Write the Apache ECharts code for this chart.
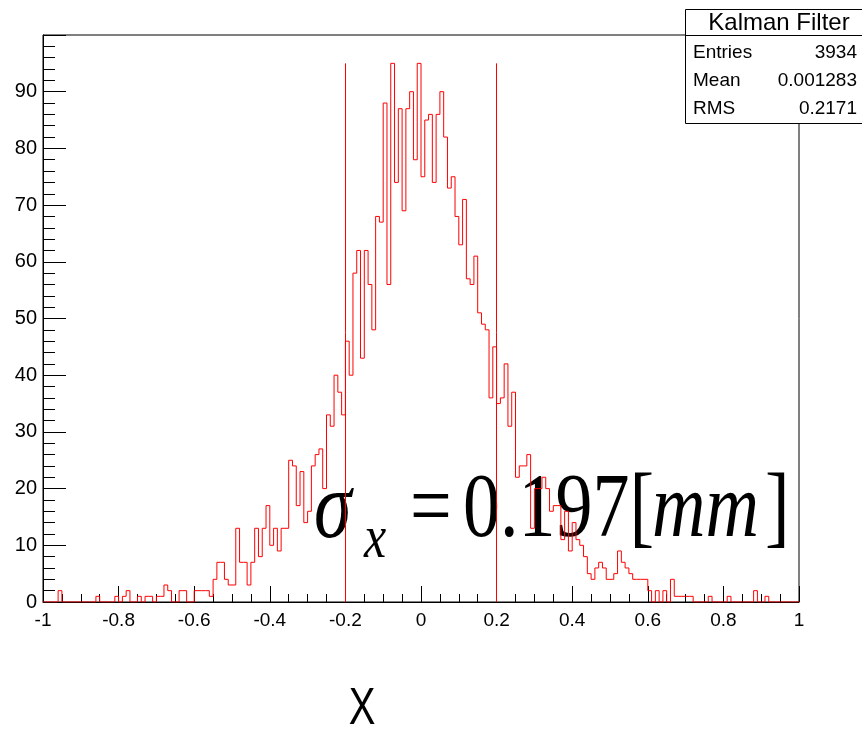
<!DOCTYPE html>
<html>
<head>
<meta charset="utf-8">
<script src="https://cdn.jsdelivr.net/npm/echarts@6/dist/echarts.min.js"></script>
<style>html,body{margin:0;padding:0;background:#fff;}#c{width:862px;height:730px;}</style>
</head>
<body>
<div id="c"></div>
<script>
// ---- data ----
const xMin = -1, xMax = 1, binWidth = 0.01;
const counts = [
  0,0,0,0,2,0,0,0,0,0,
  0,0,0,0,1,0,0,0,0,1,
  0,1,2,0,0,1,0,1,1,0,
  1,1,3,2,0,0,2,2,0,0,
  2,2,2,2,1,4,7,7,4,3,
  3,13,7,7,3,7,13,8,13,17,
  10,13,9,13,13,25,24,17,23,14,
  16,24,26,27,20,33,31,40,37,33,
  46,40,58,62,43,62,56,48,68,67,
  88,56,95,74,87,69,87,90,78,95,
  75,85,86,74,86,90,82,73,75,68,
  63,71,57,56,61,51,49,48,36,45,
  35,36,42,31,37,22,24,24,26,13,
  20,20,22,20,16,17,17,11,16,9,
  14,11,10,8,5,4,6,7,6,4,
  4,5,9,7,6,5,4,4,4,4,
  2,0,2,0,2,0,4,1,1,1,
  1,1,0,0,0,0,1,0,0,0,
  0,1,0,0,0,0,0,0,2,0,
  0,1,0,0,0,0,0,0,0,0
];
const sigmaLines = [-0.2, 0.2];
const sigmaLineTop = 95;
const yMax = 100, yInterval = 10, xInterval = 0.2;
const statTitle = 'Kalman Filter';
const statLabels = ['Entries', 'Mean', 'RMS'];
const statValues = ['3934', '0.001283', '0.2171'];
const axisTitleX = 'X';

// ---- build ----
const histData = counts.map((v, i) => [+(xMin + i * binWidth).toFixed(4), v]);
histData.push([xMax, counts[counts.length - 1]]);

const chart = echarts.init(document.getElementById('c'), null, {renderer: 'canvas'});
const sans = '"Liberation Sans", Arial, sans-serif';
const serif = '"Liberation Serif", "Times New Roman", serif';

const statRows = statLabels.map((lab, i) => ([
  {type: 'text', x: 693, y: 53 + i * 28, style: {text: lab, font: '19px ' + sans, fill: '#000', verticalAlign: 'middle', align: 'left'}},
  {type: 'text', x: 857, y: 53 + i * 28, style: {text: statValues[i], font: '19px ' + sans, fill: '#000', verticalAlign: 'middle', align: 'right'}}
])).flat();

chart.setOption({
  animation: false,
  backgroundColor: '#fff',
  grid: {left: 43, right: 63, top: 35, bottom: 128, show: true, borderColor: '#000', borderWidth: 1, backgroundColor: 'transparent'},
  xAxis: {
    type: 'value', min: xMin, max: xMax, interval: xInterval,
    axisLine: {show: true, onZero: false, lineStyle: {color: '#000', width: 1}},
    axisTick: {show: true, inside: true, length: 16, lineStyle: {color: '#000'}},
    minorTick: {show: true, splitNumber: 4, length: 8, lineStyle: {color: '#000'}},
    splitLine: {show: false},
    axisLabel: {color: '#000', fontSize: 19, fontFamily: sans, margin: 9}
  },
  yAxis: {
    type: 'value', min: 0, max: yMax, interval: yInterval,
    axisLine: {show: true, onZero: false, lineStyle: {color: '#000', width: 1}},
    axisTick: {show: true, inside: true, length: 23, lineStyle: {color: '#000'}},
    minorTick: {show: true, splitNumber: 5, length: 12, lineStyle: {color: '#000'}},
    splitLine: {show: false},
    axisLabel: {color: '#000', fontSize: 20, fontFamily: sans, margin: 6,
      formatter: v => (v >= yMax ? '' : String(v))}
  },
  series: [{
    type: 'line', step: 'end', data: histData, showSymbol: false, symbol: 'none',
    lineStyle: {color: '#ff0000', width: 1}, itemStyle: {color: '#ff0000'},
    silent: true,
    markLine: {
      silent: true, symbol: ['none', 'none'], animation: false,
      label: {show: false},
      lineStyle: {color: '#ff0000', width: 1, type: 'solid'},
      data: sigmaLines.map(x => [{coord: [x, 0]}, {coord: [x, sigmaLineTop]}])
    }
  }],
  graphic: [
    {type: 'rect', shape: {x: 685.5, y: 9.5, width: 180, height: 114}, style: {fill: '#fff', stroke: '#000', lineWidth: 1}, z: 10},
    {type: 'line', shape: {x1: 685.5, y1: 35.5, x2: 862, y2: 35.5}, style: {stroke: '#000', lineWidth: 1}, z: 10},
    {type: 'text', x: 779, y: 23, z: 11, style: {text: statTitle, font: '24px ' + sans, fill: '#000', align: 'center', verticalAlign: 'middle'}},
    ...statRows.map(e => Object.assign(e, {z: 11})),
    {type: 'group', x: 0, y: 542, scaleY: 1.24, z: 12, children: [
      {type: 'text', x: 314, y: -24, style: {text: 'σ', font: 'italic 76px ' + serif, fill: '#000', verticalAlign: 'middle'}},
      {type: 'text', x: 364, y: 16 - 17, style: {text: 'x', font: 'italic 50px ' + serif, fill: '#000', verticalAlign: 'middle'}},
      {type: 'text', x: 410, y: -24, style: {text: '=', font: '74px ' + serif, fill: '#000', verticalAlign: 'middle'}},
      {type: 'text', x: 463, y: -24, style: {text: '0.197[', font: '74px ' + serif, fill: '#000', verticalAlign: 'middle'}},
      {type: 'text', x: 652, y: -24, style: {text: 'mm', font: 'italic 74px ' + serif, fill: '#000', verticalAlign: 'middle'}},
      {type: 'text', x: 765, y: -24, style: {text: ']', font: '74px ' + serif, fill: '#000', verticalAlign: 'middle'}}
    ]},
    {type: 'group', x: 362, y: 710, scaleY: 1.3, children: [
      {type: 'text', x: 0, y: 0, style: {text: axisTitleX, font: '40px ' + sans, fill: '#000', align: 'center', verticalAlign: 'middle'}}
    ]}
  ]
});
</script>
</body>
</html>
